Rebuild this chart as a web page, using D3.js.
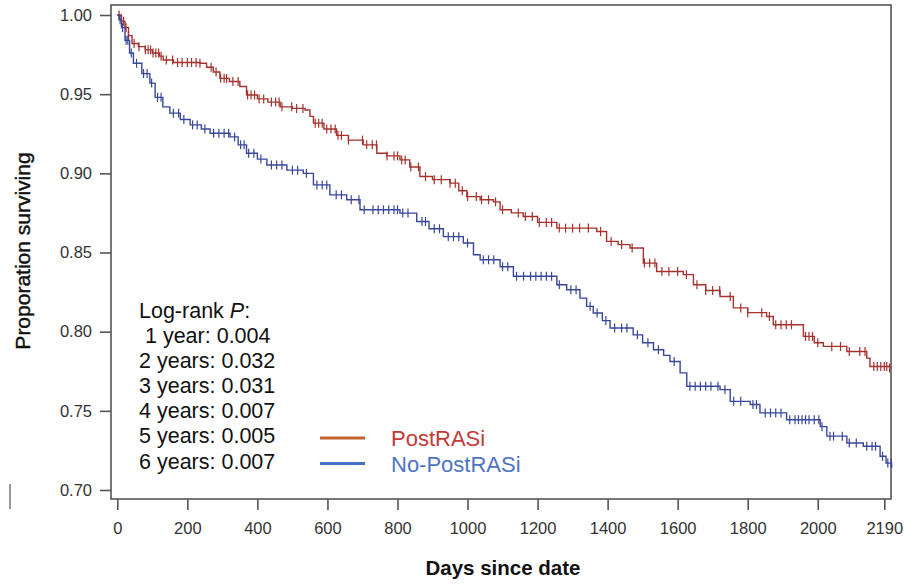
<!DOCTYPE html>
<meta charset="utf-8">
<head>
  <title>Kaplan-Meier survival</title>
</head>

<style>
body { margin: 0; background: #fff; }
text {
  font-family: "Liberation Sans", Arial, Helvetica, sans-serif;
}
.frame { fill: none; stroke: #555; stroke-width: 1.6; }
.km { fill: none; stroke-width: 1.4; }
.censor { stroke-width: 1.2; }
</style>

<body>
  <svg width="916" height="585"></svg>

  <script src="https://cdnjs.cloudflare.com/ajax/libs/d3/7.8.5/d3.min.js"></script>
  <script>
// survival steps: day, proportion surviving
var postDays = [0, 12, 22, 32, 42, 60, 80, 100, 120, 131, 160, 236, 255, 274, 293, 320, 350, 369, 400, 430,
  465, 500, 536, 550, 560, 590, 626, 660, 702, 741, 770, 807, 835, 864, 900, 950, 975, 998, 1036, 1074,
  1093, 1125, 1159, 1200, 1255, 1369, 1397, 1430, 1464, 1502, 1540, 1616, 1645, 1680, 1721, 1759, 1800,
  1854, 1873, 1959, 1990, 2016, 2083, 2140, 2149, 2205];
var postSurv = [1.000, 0.996, 0.992, 0.987, 0.982, 0.980, 0.978, 0.976, 0.974, 0.9716, 0.970, 0.9695, 0.967,
  0.964, 0.960, 0.958, 0.9548, 0.9495, 0.947, 0.945, 0.942, 0.941, 0.940, 0.936, 0.9317, 0.928, 0.924, 0.921,
  0.918, 0.9127, 0.911, 0.9085, 0.904, 0.898, 0.896, 0.8938, 0.889, 0.8853, 0.8833, 0.882, 0.877, 0.875,
  0.8727, 0.869, 0.8654, 0.8633, 0.857, 0.855, 0.8528, 0.8433, 0.838, 0.836, 0.8296, 0.826, 0.8222, 0.815,
  0.812, 0.8096, 0.8044, 0.797, 0.793, 0.7907, 0.7875, 0.7833, 0.778, 0.777];

var noDays = [0, 5, 12, 22, 35, 46, 70, 93, 108, 130, 150, 180, 208, 240, 265, 322, 345, 369, 400, 427, 484,
  531, 560, 607, 655, 693, 807, 855, 890, 931, 988, 1017, 1036, 1093, 1131, 1255, 1283, 1321, 1340, 1359,
  1385, 1407, 1473, 1500, 1531, 1560, 1578, 1607, 1626, 1721, 1750, 1807, 1835, 1911, 2007, 2026, 2083,
  2130, 2178, 2195, 2211];
var noSurv = [1.000, 0.997, 0.992, 0.984, 0.976, 0.9695, 0.963, 0.957, 0.948, 0.942, 0.938, 0.934, 0.9306,
  0.928, 0.9253, 0.923, 0.918, 0.9127, 0.909, 0.9053, 0.902, 0.900, 0.8927, 0.8864, 0.8833, 0.877, 0.8749,
  0.8696, 0.865, 0.860, 0.856, 0.8486, 0.8454, 0.841, 0.835, 0.8296, 0.8265, 0.8212, 0.816, 0.8118, 0.807,
  0.8023, 0.798, 0.793, 0.7886, 0.785, 0.7812, 0.774, 0.7655, 0.7634, 0.756, 0.754, 0.7487, 0.7444, 0.740,
  0.734, 0.7297, 0.7276, 0.7213, 0.717, 0.714];

// censoring times (the little vertical ticks)
var postCensor = [5, 12, 18, 25, 32, 48, 62, 80, 88, 95, 102, 110, 118, 125, 140, 158, 172, 185, 200, 212,
  225, 236, 268, 282, 295, 305, 312, 330, 345, 372, 382, 392, 405, 418, 440, 452, 462, 470, 498, 512, 530,
  565, 575, 585, 598, 610, 622, 630, 640, 660, 700, 712, 728, 740, 770, 790, 800, 812, 822, 838, 860, 880,
  905, 925, 950, 965, 985, 1000, 1025, 1040, 1060, 1080, 1100, 1145, 1165, 1185, 1205, 1225, 1240, 1262,
  1280, 1300, 1320, 1345, 1380, 1410, 1440, 1470, 1505, 1520, 1535, 1555, 1575, 1600, 1625, 1655, 1680,
  1700, 1720, 1750, 1780, 1800, 1840, 1862, 1880, 1895, 1910, 1925, 1965, 1975, 1985, 2000, 2040, 2065,
  2090, 2120, 2135, 2160, 2170, 2180, 2190, 2197, 2205];
var noCensor = [8, 15, 25, 30, 40, 55, 75, 85, 98, 115, 125, 160, 175, 190, 215, 228, 250, 275, 290, 305,
  318, 335, 352, 362, 375, 390, 410, 440, 455, 470, 500, 515, 540, 570, 585, 598, 625, 640, 668, 690, 705,
  730, 745, 760, 775, 790, 800, 815, 830, 870, 880, 905, 920, 945, 960, 975, 1000, 1045, 1060, 1075, 1100,
  1115, 1140, 1160, 1180, 1195, 1210, 1225, 1240, 1262, 1295, 1310, 1350, 1370, 1395, 1420, 1440, 1455,
  1485, 1515, 1545, 1590, 1635, 1650, 1665, 1680, 1695, 1715, 1735, 1760, 1780, 1815, 1825, 1850, 1865,
  1880, 1895, 1920, 1935, 1945, 1955, 1965, 1975, 1990, 2003, 2012, 2035, 2045, 2070, 2090, 2110, 2140,
  2155, 2165, 2185, 2200, 2210];

var xTicks = [0, 200, 400, 600, 800, 1000, 1200, 1400, 1600, 1800, 2000, 2190];
var yTicks = [0.70, 0.75, 0.80, 0.85, 0.90, 0.95, 1.00];

var pLines = [" 1 year: 0.004", "2 years: 0.032", "3 years: 0.031", "4 years: 0.007",
  "5 years: 0.005", "6 years: 0.007"];

var legendNames = ["PostRASi", "No-PostRASi"];
var legendLine = ["#c0652e", "#4472c4"];
var legendText = ["#c43a36", "#4d74c4"];
var curveColor = ["#a5322c", "#394799"];

var svg = d3.select("svg");

var x = d3.scaleLinear().domain([0, 2190]).range([117.3, 884.3]);
var y = d3.scaleLinear().domain([0.70, 1.00]).range([490, 15]);

var plotLeft = 111, plotRight = 891, plotTop = 5, plotBottom = 499;

// stray mark at the left edge of the original figure
svg.append("line")
  .attr("x1", 10).attr("x2", 10).attr("y1", 484).attr("y2", 509)
  .attr("stroke", "#777").attr("stroke-width", 1.5);

// axes
var yAxis = svg.append("g")
  .attr("transform", "translate(" + plotLeft + ",0)")
  .call(d3.axisLeft(y).tickValues(yTicks).tickFormat(d3.format(".2f")).tickSize(11).tickPadding(8));
var xAxis = svg.append("g")
  .attr("transform", "translate(0," + plotBottom + ")")
  .call(d3.axisBottom(x).tickValues(xTicks).tickFormat(d3.format("d")).tickSize(11).tickPadding(8));

[yAxis, xAxis].forEach(function(a) {
  a.select(".domain").remove();
  a.selectAll("line").attr("stroke", "#555").attr("stroke-width", 1.6);
  a.selectAll("text").attr("fill", "#333")
    .style("font-family", "'Liberation Sans', Arial, sans-serif")
    .style("font-size", "16.5px");
});
xAxis.selectAll("text").attr("dy", "0.95em");

svg.append("rect")
  .attr("class", "frame")
  .attr("x", plotLeft).attr("y", plotTop)
  .attr("width", plotRight - plotLeft).attr("height", plotBottom - plotTop);

// curves
var series = [
  { days: postDays, surv: postSurv, censor: postCensor },
  { days: noDays, surv: noSurv, censor: noCensor }
];

var line = d3.line()
  .x(function(d) { return x(d[0]); })
  .y(function(d) { return y(d[1]); })
  .curve(d3.curveStepAfter);

var bisect = d3.bisector(function(d) { return d; }).right;

series.forEach(function(s, i) {
  var pts = s.days.map(function(d, k) { return [d, s.surv[k]]; });
  svg.append("path")
    .attr("class", "km")
    .attr("stroke", curveColor[i])
    .attr("d", line(pts));

  var survAt = function(t) { return s.surv[Math.max(0, bisect(s.days, t) - 1)]; };

  svg.append("g")
    .selectAll("line")
    .data(s.censor)
    .enter()
    .append("line")
    .attr("class", "censor")
    .attr("stroke", curveColor[i])
    .attr("x1", function(t) { return x(t); })
    .attr("x2", function(t) { return x(t); })
    .attr("y1", function(t) { return y(survAt(t)) - 4.5; })
    .attr("y2", function(t) { return y(survAt(t)) + 4.5; });
});

// log-rank text
var pText = svg.append("text")
  .attr("x", 139)
  .attr("y", 318)
  .style("font-size", "21.5px")
  .attr("fill", "#111");
pText.append("tspan").text("Log-rank ");
pText.append("tspan").style("font-style", "italic").text("P");
pText.append("tspan").text(":");

svg.append("g")
  .selectAll("text")
  .data(pLines)
  .enter()
  .append("text")
  .attr("x", 139)
  .attr("y", function(d, i) { return 343 + i * 25.1; })
  .style("font-size", "21.5px")
  .style("white-space", "pre")
  .attr("xml:space", "preserve")
  .attr("fill", "#111")
  .text(function(d) { return d; });

// legend
var leg = svg.append("g")
  .selectAll("g")
  .data(legendNames)
  .enter()
  .append("g")
  .attr("transform", function(d, i) { return "translate(0," + (i * 25.5) + ")"; });

leg.append("line")
  .attr("x1", 320).attr("x2", 365)
  .attr("y1", 438).attr("y2", 438)
  .attr("stroke-width", 3.2)
  .attr("stroke", function(d, i) { return legendLine[i]; });

leg.append("text")
  .attr("x", 391)
  .attr("y", 446)
  .style("font-size", "22px")
  .attr("fill", function(d, i) { return legendText[i]; })
  .text(function(d) { return d; });

// axis titles
svg.append("text")
  .attr("transform", "translate(30,251) rotate(-90)")
  .attr("text-anchor", "middle")
  .style("font-size", "21px")
  .attr("fill", "#111")
  .attr("stroke", "#111")
  .attr("stroke-width", 0.4)
  .text("Proporation surviving");

svg.append("text")
  .attr("x", 503)
  .attr("y", 575)
  .attr("text-anchor", "middle")
  .style("font-size", "20.5px")
  .style("font-weight", "bold")
  .attr("fill", "#111")
  .text("Days since date");
  </script>
</body>
</html>
